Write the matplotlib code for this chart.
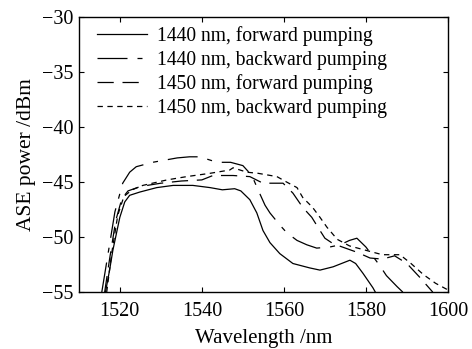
import matplotlib
matplotlib.use("Agg")
import matplotlib.pyplot as plt

plt.rcParams['font.family'] = ['Liberation Serif', 'DejaVu Serif']

# 1440 nm, forward pumping (solid)
wl_1440f = [1516.5, 1517.5, 1518.3, 1520.0, 1521.2, 1522.4, 1524.9, 1529.0, 1533.0, 1537.8,
            1542.0, 1545.0, 1548.0, 1549.5, 1551.7, 1553.4, 1554.9, 1556.6, 1559.0, 1562.2,
            1566.3, 1568.8, 1572.0, 1576.1, 1577.5, 1579.3, 1581.7, 1582.3]
p_1440f = [-55.0, -53.0, -51.2, -48.2, -46.8, -46.2, -45.9, -45.5, -45.3, -45.3,
           -45.5, -45.7, -45.6, -45.8, -46.6, -47.8, -49.4, -50.5, -51.5, -52.4,
           -52.8, -53.0, -52.7, -52.1, -52.4, -53.3, -54.6, -55.0]

# 1440 nm, backward pumping
wl_1440b = [1515.6, 1517.0, 1518.8, 1520.7, 1522.4, 1524.0, 1528.0, 1534.0, 1537.0, 1539.5,
            1543.7, 1547.0, 1550.0, 1552.2, 1553.7, 1555.4, 1556.6, 1559.0, 1560.7, 1563.2,
            1565.6, 1568.0, 1571.2, 1573.7, 1576.0, 1577.8, 1580.0, 1583.4, 1585.0, 1587.6,
            1589.0]
p_1440b = [-55.0, -51.8, -47.7, -45.1, -44.1, -43.6, -43.2, -42.8, -42.7, -42.7,
           -43.2, -43.2, -43.5, -44.4, -45.7, -47.1, -47.8, -48.9, -49.6, -50.3,
           -50.7, -51.0, -50.9, -50.7, -50.3, -50.1, -50.9, -52.6, -53.5, -54.5,
           -55.0]

# 1450 nm, forward pumping
wl_1450f = [1516.3, 1517.5, 1519.0, 1520.5, 1522.0, 1525.0, 1530.0, 1535.0, 1540.0, 1542.7,
            1547.6, 1551.7, 1554.9, 1558.3, 1559.8, 1562.2, 1564.6, 1566.8, 1568.8, 1570.0,
            1572.0, 1575.0, 1578.0, 1581.0, 1584.0, 1587.0, 1590.0, 1593.0, 1596.3]
p_1450f = [-55.0, -52.0, -48.5, -46.5, -45.8, -45.4, -45.1, -44.9, -44.8, -44.4,
           -44.4, -44.5, -45.1, -45.1, -45.1, -46.0, -47.3, -48.2, -49.4, -50.1,
           -50.6, -51.0, -51.4, -51.9, -52.0, -51.7, -52.4, -53.6, -55.0]

# 1450 nm, backward pumping
wl_1450b = [1516.8, 1518.0, 1519.5, 1521.0, 1523.0, 1525.6, 1531.5, 1536.3, 1542.0, 1546.8,
            1547.6, 1551.0, 1553.7, 1558.3, 1560.7, 1563.2, 1564.6, 1567.0, 1568.8, 1570.5,
            1573.0, 1576.0, 1580.0, 1584.0, 1588.3, 1591.0, 1594.0, 1597.0, 1600.0]
p_1450b = [-55.0, -51.5, -48.0, -46.3, -45.7, -45.3, -44.8, -44.5, -44.2, -43.9,
           -43.7, -44.1, -44.2, -44.5, -45.0, -45.5, -46.4, -47.3, -48.2, -49.1,
           -50.2, -50.8, -51.2, -51.6, -51.6, -52.4, -53.4, -54.2, -54.8]

fig = plt.figure(figsize=(4.72, 3.49), dpi=100)
ax = fig.add_axes([0.167, 0.163, 0.782, 0.788])

lw = 0.9
ax.plot(wl_1440f, p_1440f, color='black', lw=lw, label='1440 nm, forward pumping')
ax.plot(wl_1440b, p_1440b, color='black', lw=lw, dashes=(24, 8, 4, 8),
        label='1440 nm, backward pumping')
ax.plot(wl_1450f, p_1450f, color='black', lw=lw, dashes=(13, 7),
        label='1450 nm, forward pumping')
ax.plot(wl_1450b, p_1450b, color='black', lw=lw, dashes=(4.3, 3.6),
        label='1450 nm, backward pumping')

ax.set_xlim(1510, 1600)
ax.set_ylim(-55, -30)
ax.set_xticks([1520, 1540, 1560, 1580, 1600])
ax.set_yticks([-55, -50, -45, -40, -35, -30])
ax.tick_params(direction='in', top=True, right=True, labelsize=14.5, length=3.5, width=0.8)
ax.tick_params(axis='x', pad=7)
ax.tick_params(axis='y', pad=4)
for s in ax.spines.values():
    s.set_linewidth(1.0)

ax.set_xlabel('Wavelength /nm', fontsize=15, labelpad=6)
ax.set_ylabel('ASE power /dBm', fontsize=15.5, labelpad=4)

leg = ax.legend(loc='upper left', bbox_to_anchor=(0.049, 0.968), frameon=False,
                fontsize=14.1, handlelength=2.55, handletextpad=0.5,
                labelspacing=0.24, borderaxespad=0, borderpad=0)

fig.savefig('out.png', dpi=100)
